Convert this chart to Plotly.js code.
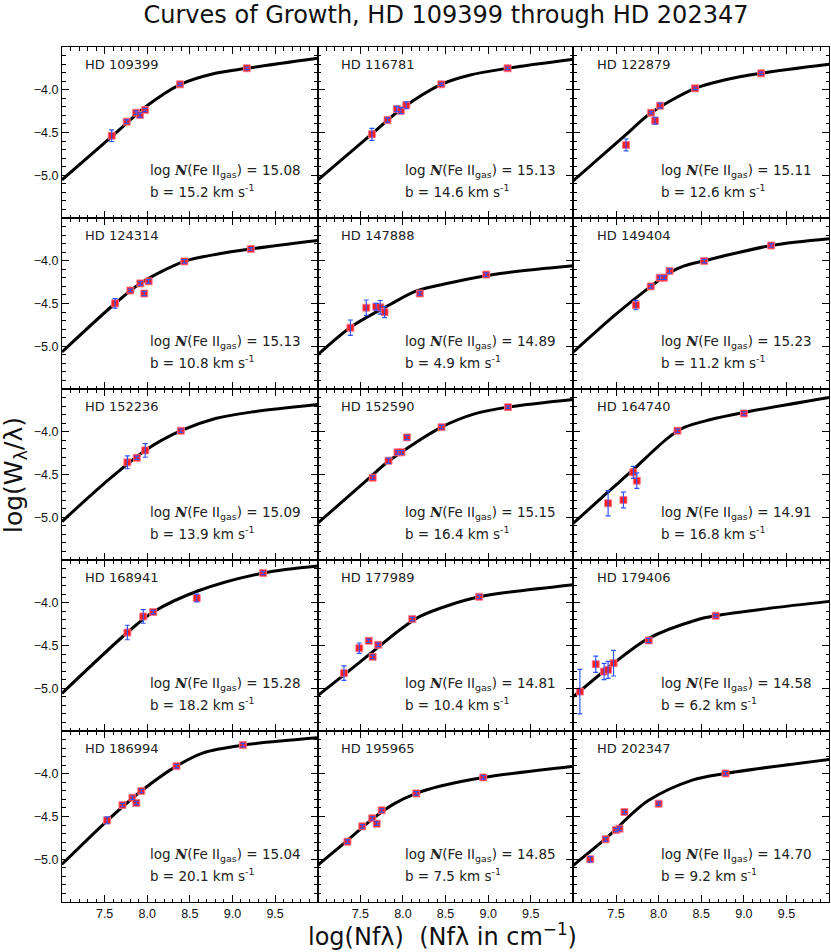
<!DOCTYPE html>
<html>
<head>
<meta charset="utf-8">
<script src="https://cdn.plot.ly/plotly-3.0.1.min.js"></script>
<style>
  body { margin: 0; background: #fff; }
  #plot { width: 831px; height: 952px; }
</style>
</head>
<body>
<div id="plot"></div>
<script>
// one entry per panel, row by row
var stars = ['HD 109399', 'HD 116781', 'HD 122879',
             'HD 124314', 'HD 147888', 'HD 149404',
             'HD 152236', 'HD 152590', 'HD 164740',
             'HD 168941', 'HD 177989', 'HD 179406',
             'HD 186994', 'HD 195965', 'HD 202347'];
var logN = ['15.08', '15.13', '15.11', '15.13', '14.89', '15.23', '15.09', '15.15',
            '14.91', '15.28', '14.81', '14.58', '15.04', '14.85', '14.70'];
var bVals = ['15.2', '14.6', '12.6', '10.8', '4.9', '11.2', '13.9', '16.4',
             '16.8', '18.2', '10.4', '6.2', '20.1', '7.5', '9.2'];

// measured lines
var ptX = [
  [7.583, 7.759, 7.869, 7.915, 7.974, 8.385, 9.168],
  [7.636, 7.819, 7.929, 7.976, 8.039, 8.45, 9.228],
  [7.618, 7.912, 7.959, 8.017, 8.428, 9.203],
  [7.622, 7.802, 7.919, 7.965, 8.017, 8.436, 9.215],
  [7.384, 7.570, 7.686, 7.733, 7.785, 8.198, 8.977],
  [7.733, 7.907, 8.012, 8.064, 8.128, 8.535, 9.32],
  [7.767, 7.878, 7.977, 8.395],
  [7.645, 7.831, 7.936, 7.983, 8.047, 8.453, 9.233],
  [7.407, 7.587, 7.703, 7.744, 8.221, 9.0],
  [7.767, 7.953, 8.07, 8.581, 9.36],
  [7.308, 7.488, 7.599, 7.645, 7.709, 8.110, 8.895],
  [7.076, 7.262, 7.36, 7.407, 7.471, 7.884, 8.669],
  [7.529, 7.709, 7.826, 7.872, 7.930, 8.343, 9.122],
  [7.349, 7.523, 7.64, 7.692, 7.75, 8.157, 8.942],
  [7.198, 7.378, 7.5, 7.541, 7.599, 8.0, 8.785]
];
var ptY = [
  [-4.537, -4.373, -4.268, -4.295, -4.237, -3.937, -3.749],
  [-4.521, -4.354, -4.225, -4.245, -4.182, -3.937, -3.749],
  [-4.646, -4.268, -4.362, -4.186, -3.983, -3.808],
  [-4.498, -4.348, -4.265, -4.383, -4.241, -4.008, -3.862],
  [-4.783, -4.549, -4.538, -4.545, -4.601, -4.383, -4.162],
  [-4.518, -4.300, -4.198, -4.198, -4.119, -4.004, -3.822],
  [-4.358, -4.304, -4.218, -3.988],
  [-4.537, -4.339, -4.241, -4.241, -4.066, -3.946, -3.712],
  [-4.837, -4.798, -4.475, -4.572, -3.988, -3.786],
  [-4.348, -4.160, -4.109, -3.945, -3.652],
  [-4.824, -4.531, -4.445, -4.633, -4.492, -4.191, -3.930],
  [-5.039, -4.719, -4.805, -4.785, -4.707, -4.441, -4.152],
  [-4.545, -4.366, -4.280, -4.342, -4.202, -3.911, -3.665],
  [-4.794, -4.615, -4.521, -4.584, -4.428, -4.230, -4.043],
  [-5.0, -4.767, -4.658, -4.642, -4.447, -4.350, -3.996]
];
var ptErr = [
  [0.068, 0.02, 0.02, 0.025, 0.02, 0.015, 0.015],
  [0.07, 0.025, 0.03, 0.035, 0.04, 0.015, 0.015],
  [0.07, 0.015, 0.04, 0.03, 0.015, 0.015],
  [0.055, 0.015, 0.02, 0.025, 0.02, 0.02, 0.015],
  [0.09, 0.09, 0.04, 0.08, 0.065, 0.02, 0.02],
  [0.055, 0.02, 0.02, 0.02, 0.025, 0.02, 0.02],
  [0.075, 0.02, 0.08, 0.02],
  [0.02, 0.03, 0.02, 0.02, 0.025, 0.02, 0.015],
  [0.148, 0.093, 0.07, 0.09, 0.02, 0.02],
  [0.085, 0.08, 0.02, 0.045, 0.02],
  [0.085, 0.06, 0.02, 0.02, 0.02, 0.02, 0.02],
  [0.26, 0.095, 0.095, 0.1, 0.15, 0.025, 0.015],
  [0.04, 0.02, 0.02, 0.02, 0.02, 0.02, 0.02],
  [0.02, 0.02, 0.02, 0.02, 0.02, 0.02, 0.02],
  [0.03, 0.02, 0.02, 0.02, 0.02, 0.02, 0.02]
];

// fitted curves
var curveX = [
  [7.0, 7.583, 7.974, 8.385, 8.8, 9.168, 10.0],
  [7.0, 7.636, 7.98, 8.45, 8.79, 9.228, 10.0],
  [7.0, 7.6, 7.912, 8.428, 8.772, 9.203, 10.0],
  [7.0, 7.622, 7.919, 8.436, 8.83, 9.215, 10.0],
  [7.0, 7.395, 7.86, 8.151, 8.558, 9.14, 10.0],
  [7.0, 7.5, 7.907, 8.128, 8.3, 8.535, 9.32, 10.0],
  [7.0, 7.5, 7.977, 8.395, 8.8, 9.24, 10.0],
  [7.0, 7.6, 7.831, 8.453, 8.849, 9.233, 10.0],
  [7.0, 7.4, 7.698, 8.1, 8.3, 8.6, 9.0, 10.0],
  [7.0, 7.767, 8.07, 8.6, 9.36, 10.0],
  [7.0, 7.308, 7.686, 8.0, 8.2, 8.558, 8.895, 10.0],
  [7.0, 7.471, 7.872, 8.453, 8.669, 9.3, 10.0],
  [7.0, 7.529, 7.93, 8.343, 8.657, 9.122, 10.0],
  [7.0, 7.35, 7.64, 7.9, 8.157, 8.442, 8.942, 10.0],
  [7.0, 7.378, 7.87, 8.395, 8.785, 10.0]
];
var curveY = [
  [-5.053, -4.549, -4.205, -3.94, -3.808, -3.749, -3.632],
  [-5.056, -4.515, -4.225, -3.937, -3.827, -3.749, -3.644],
  [-5.063, -4.54, -4.27, -3.983, -3.886, -3.808, -3.703],
  [-5.067, -4.50, -4.265, -4.008, -3.921, -3.862, -3.763],
  [-5.10, -4.771, -4.506, -4.355, -4.257, -4.150, -4.059],
  [-5.067, -4.625, -4.30, -4.14, -4.06, -4.0, -3.822, -3.743],
  [-5.051, -4.60, -4.218, -3.988, -3.845, -3.767, -3.681],
  [-5.07, -4.545, -4.345, -3.946, -3.788, -3.712, -3.623],
  [-5.07, -4.71, -4.447, -4.08, -3.95, -3.86, -3.775, -3.60],
  [-5.059, -4.348, -4.109, -3.86, -3.652, -3.57],
  [-5.086, -4.844, -4.539, -4.29, -4.16, -4.023, -3.93, -3.789],
  [-5.098, -4.71, -4.422, -4.199, -4.152, -4.065, -3.984],
  [-5.058, -4.55, -4.202, -3.911, -3.755, -3.665, -3.58],
  [-5.07, -4.78, -4.53, -4.35, -4.23, -4.144, -4.043, -3.911],
  [-5.07, -4.76, -4.32, -4.074, -3.996, -3.833]
];

// tick labels (the panel edges carry ticks but no labels)
var xTickVals = [7.0, 7.5, 8.0, 8.5, 9.0, 9.5, 10.0];
var xTickText = ['', '7.5', '8.0', '8.5', '9.0', '9.5', ''];
var yTickVals = [-5.5, -5.0, -4.5, -4.0, -3.5];
var yTickText = ['', '−5.0', '−4.5', '−4.0', ''];

var W = 831, H = 952;
var left = 62, top0 = 47, colW = 255.7, rowH = 171;
var textFont = 'DejaVu Sans, sans-serif';
var tickFont = {family: 'Liberation Sans, Arial, sans-serif', size: 12.5, color: '#111'};

var traces = [];
var layout = {
  width: W, height: H,
  margin: {l: 0, r: 0, t: 0, b: 0},
  paper_bgcolor: '#fff', plot_bgcolor: '#fff',
  showlegend: false,
  hovermode: false,
  title: {
    text: 'Curves of Growth, HD 109399 through HD 202347',
    x: 446 / W, xanchor: 'center', y: 1 - 15 / H, yanchor: 'middle',
    font: {family: textFont, size: 24, color: '#111'}
  },
  annotations: []
};

for (var i = 0; i < stars.length; i++) {
  var row = Math.floor(i / 3), col = i % 3;
  var n = i === 0 ? '' : String(i + 1);
  var xa = 'x' + n, ya = 'y' + n;

  var x0 = (left + col * colW) / W, x1 = (left + (col + 1) * colW) / W;
  var y1 = 1 - (top0 + row * rowH) / H, y0 = 1 - (top0 + (row + 1) * rowH) / H;

  layout['xaxis' + n] = {
    domain: [x0, x1], anchor: ya,
    range: [7.0, 10.0],
    tickmode: 'array', tickvals: xTickVals, ticktext: xTickText,
    ticks: 'inside', ticklen: 7, tickcolor: '#000', tickwidth: 1,
    showticklabels: row === 4, tickfont: tickFont,
    minor: {tickmode: 'linear', dtick: 0.1, tick0: 7, ticks: 'inside', ticklen: 3.5,
            tickcolor: '#000', tickwidth: 1},
    showline: true, linecolor: '#000', linewidth: 1, mirror: 'allticks',
    showgrid: false, zeroline: false, fixedrange: true
  };
  layout['yaxis' + n] = {
    domain: [y0, y1], anchor: xa,
    range: [-5.5, -3.5],
    tickmode: 'array', tickvals: yTickVals, ticktext: yTickText,
    ticks: 'inside', ticklen: 7, tickcolor: '#000', tickwidth: 1,
    showticklabels: col === 0, tickfont: tickFont,
    minor: {tickmode: 'linear', dtick: 0.1, tick0: -4, ticks: 'inside', ticklen: 3.5,
            tickcolor: '#000', tickwidth: 1},
    showline: true, linecolor: '#000', linewidth: 1, mirror: 'allticks',
    showgrid: false, zeroline: false, fixedrange: true
  };

  traces.push({
    x: curveX[i], y: curveY[i], xaxis: xa, yaxis: ya,
    mode: 'lines', line: {color: '#000', width: 3, shape: 'spline', smoothing: 0.9}
  });
  traces.push({
    x: ptX[i], y: ptY[i], xaxis: xa, yaxis: ya,
    mode: 'markers',
    marker: {symbol: 'square', size: 7, color: '#ff1e1e',
             line: {color: 'rgba(255,120,140,0.85)', width: 1}}
  });
  // error bars drawn over the squares
  traces.push({
    x: ptX[i], y: ptY[i], xaxis: xa, yaxis: ya,
    mode: 'markers', marker: {size: 1, color: 'rgba(0,0,0,0)'},
    error_y: {type: 'data', array: ptErr[i], visible: true,
              color: '#2f55ff', thickness: 1.2, width: 2.5}
  });

  layout.annotations.push({
    xref: xa + ' domain', yref: ya + ' domain', x: 0.083, y: 0.9,
    xanchor: 'left', yanchor: 'middle', showarrow: false,
    text: stars[i], font: {family: textFont, size: 13, color: '#222'}
  });
  layout.annotations.push({
    xref: xa + ' domain', yref: ya + ' domain', x: 0.335, y: 0.275,
    xanchor: 'left', yanchor: 'middle', showarrow: false,
    text: 'log <span style="font-family:DejaVu Serif;font-weight:bold"><i>N</i></span>(Fe II<sub>gas</sub>) = ' + logN[i],
    font: {family: textFont, size: 13.5, color: '#222'}
  });
  layout.annotations.push({
    xref: xa + ' domain', yref: ya + ' domain', x: 0.335, y: 0.155,
    xanchor: 'left', yanchor: 'middle', showarrow: false,
    text: 'b = ' + bVals[i] + ' km s<sup>-1</sup>',
    font: {family: textFont, size: 13.5, color: '#222'}
  });
}

// axis titles
layout.annotations.push({
  xref: 'paper', yref: 'paper', x: 442 / W, y: 1 - 935 / H,
  xanchor: 'center', yanchor: 'middle', showarrow: false,
  text: 'log(Nfλ)  (Nfλ in cm<sup>−1</sup>)',
  font: {family: textFont, size: 24, color: '#111'}
});
layout.annotations.push({
  xref: 'paper', yref: 'paper', x: 15 / W, y: 1 - 475 / H,
  xanchor: 'center', yanchor: 'middle', showarrow: false, textangle: -90,
  text: 'log(W<sub>λ</sub>/λ)',
  font: {family: textFont, size: 25, color: '#111'}
});

Plotly.newPlot('plot', traces, layout, {displayModeBar: false, staticPlot: true});
</script>
</body>
</html>
